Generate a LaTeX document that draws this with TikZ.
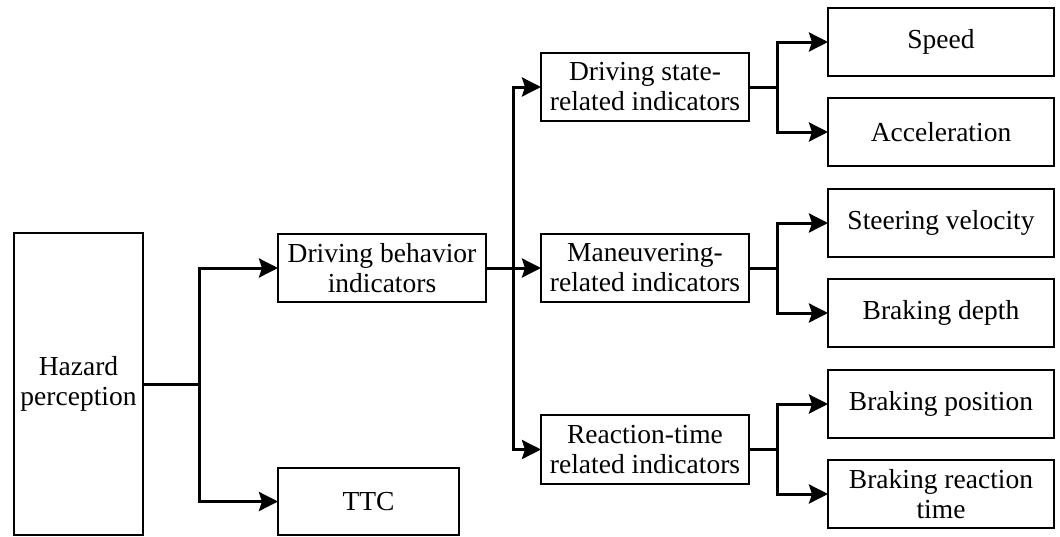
\documentclass[tikz,border=0pt]{standalone}
\usepackage{fontspec}
\setmainfont{Liberation Serif}
\usetikzlibrary{arrows.meta}
\begin{document}
\begin{tikzpicture}[x=1pt,y=-1pt,
  box/.style={draw, line width=1.8pt, inner sep=0pt, outer sep=0pt, align=center,
    font=\fontsize{27.5}{30}\selectfont},
  conn/.style={line width=3pt},
  arr/.style={line width=3pt, -{Stealth[length=19pt,width=19pt,inset=3pt]}}]
\useasboundingbox (0,0) rectangle (1060,536);
% nodes
\node[box, minimum width=129pt, minimum height=302pt] (haz) at (78.5,384) {Hazard\\perception};
\node[box, minimum width=208pt, minimum height=68pt] (dbi) at (382,268) {Driving behavior\\indicators};
\node[box, minimum width=181pt, minimum height=67pt] (ttc) at (368.5,501.5) {TTC};
\node[box, minimum width=208pt, minimum height=68pt] (dsr) at (645,87) {Driving state-\\related indicators};
\node[box, minimum width=208pt, minimum height=68pt] (mrn) at (645,268) {Maneuvering-\\related indicators};
\node[box, minimum width=208pt, minimum height=69pt] (rti) at (645,449.5) {Reaction-time\\related indicators};
\node[box, minimum width=226pt, minimum height=68pt] (spd) at (941,42) {Speed};
\node[box, minimum width=226pt, minimum height=68pt] (acc) at (941,132) {Acceleration};
\node[box, minimum width=226pt, minimum height=68pt] (stv) at (941,223) {Steering velocity};
\node[box, minimum width=226pt, minimum height=68pt] (bdp) at (941,313) {Braking depth};
\node[box, minimum width=226pt, minimum height=68pt] (bps) at (941,404) {Braking position};
\node[box, minimum width=226pt, minimum height=68pt] (brt) at (941,494) {Braking reaction\\time};
% junction points
\coordinate (j1) at (199,384);
\coordinate (j2) at (513,268);
\coordinate (j3) at (777,87);
\coordinate (j4) at (777,268);
\coordinate (j5) at (777,449.5);
% connectors
\draw[conn] (haz.east) -- (j1);
\draw[arr] (j1) |- (dbi.west);
\draw[arr] (j1) |- (ttc.west);
\draw[conn] (dbi.east) -- (j2);
\draw[arr] (j2) |- (dsr.west);
\draw[arr] (j2) -- (mrn.west);
\draw[arr] (j2) |- (rti.west);
\draw[conn] (dsr.east) -- (j3);
\draw[arr] (j3) |- (spd.west);
\draw[arr] (j3) |- (acc.west);
\draw[conn] (mrn.east) -- (j4);
\draw[arr] (j4) |- (stv.west);
\draw[arr] (j4) |- (bdp.west);
\draw[conn] (rti.east) -- (j5);
\draw[arr] (j5) |- (bps.west);
\draw[arr] (j5) |- (brt.west);
\end{tikzpicture}
\end{document}
